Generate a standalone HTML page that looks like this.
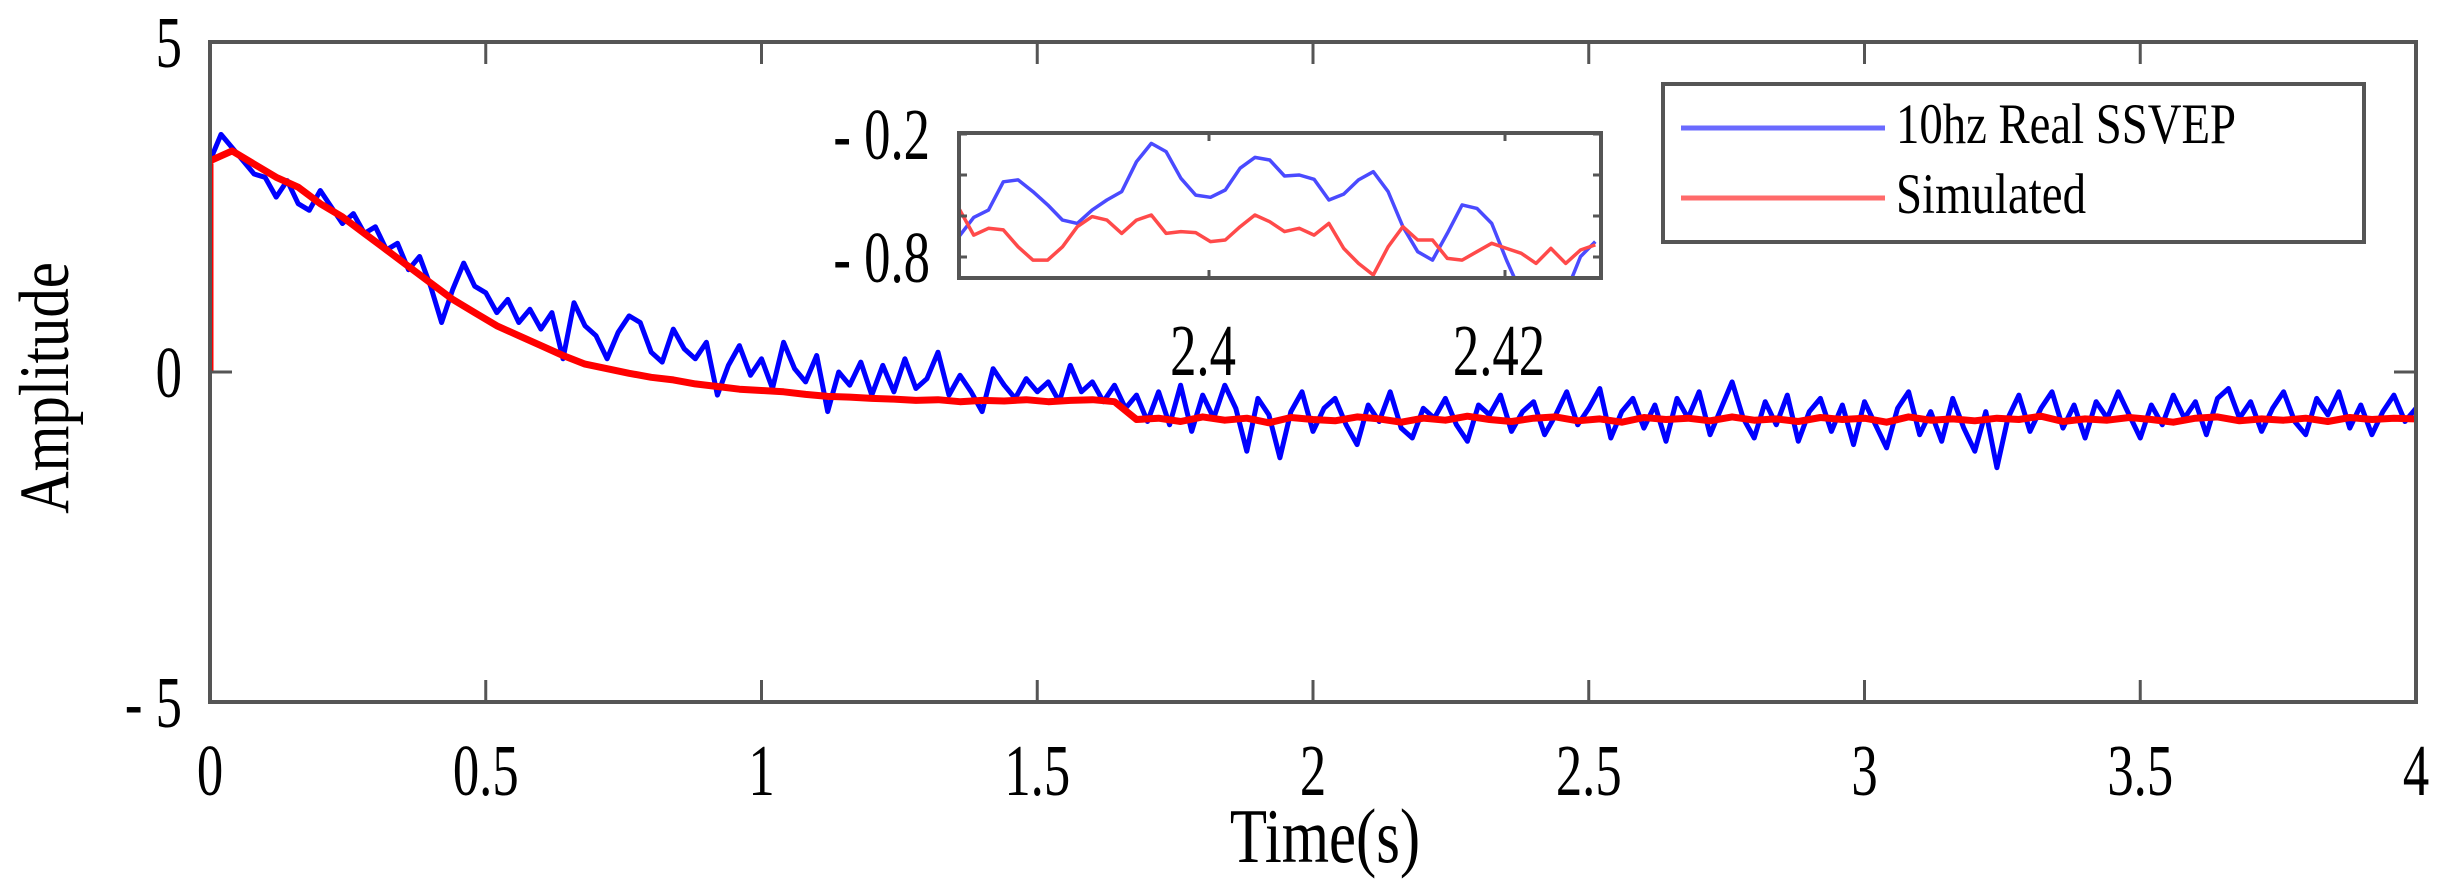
<!DOCTYPE html>
<html><head><meta charset="utf-8"><style>
html,body{margin:0;padding:0;background:#fff;}
svg{display:block;}
text{font-family:"Liberation Serif",serif;fill:#000;}
</style></head><body>
<svg id="chart" width="2444" height="887" viewBox="0 0 2444 887" xmlns="http://www.w3.org/2000/svg">
<defs>
<clipPath id="mainClip"><rect x="212" y="44" width="2202" height="656"/></clipPath>
<clipPath id="insetClip"><rect x="960" y="135" width="639" height="141"/></clipPath>
</defs>
<g id="main-series" clip-path="url(#mainClip)"></g>
<g id="main-axes"></g>
<text x="0" y="0" font-size="62" text-anchor="middle" transform="translate(68,388) rotate(-90) scale(0.95,1.15)">Amplitude</text>
<text x="0" y="0" font-size="64" text-anchor="middle" transform="translate(1325,862) scale(0.95,1.2)">Time(s)</text>
<g id="inset">
<rect x="959" y="133" width="642" height="145" fill="#fff"/>
<g id="inset-series" clip-path="url(#insetClip)"></g>
<g id="inset-axes"></g>
</g>
<g>
<rect x="1663" y="84" width="701" height="158" fill="#fff" stroke="#555" stroke-width="4"/>
<line x1="1681" y1="128" x2="1885" y2="128" stroke="#6a6aff" stroke-width="5"/>
<text x="0" y="0" font-size="50" textLength="340" lengthAdjust="spacingAndGlyphs" transform="translate(1896,143) scale(1,1.15)">10hz Real SSVEP</text>
<line x1="1681" y1="198" x2="1885" y2="198" stroke="#ff6a6a" stroke-width="5"/>
<text x="0" y="0" font-size="50" textLength="190" lengthAdjust="spacingAndGlyphs" transform="translate(1896,213) scale(1,1.15)">Simulated</text>
</g>
</svg>
<script>
const mainXTicks = [0, 0.5, 1, 1.5, 2, 2.5, 3, 3.5, 4];
const mainXTickLabels = ["0", "0.5", "1", "1.5", "2", "2.5", "3", "3.5", "4"];
const mainYTicks = [5, 0, -5];
const mainYTickLabels = ["5", "0", "- 5"];
const blueStep = 0.02;
const blueValues = [3.2,3.6,3.4,3.2,3.0,2.95,2.65,2.9,2.55,2.45,2.75,2.5,2.25,2.4,2.1,2.2,1.85,1.95,1.55,1.75,1.3,0.75,1.25,1.65,1.3,1.2,0.9,1.1,0.75,0.95,0.65,0.9,0.2,1.05,0.7,0.55,0.2,0.6,0.85,0.75,0.3,0.15,0.65,0.35,0.2,0.45,-0.35,0.1,0.4,-0.05,0.2,-0.25,0.45,0.05,-0.15,0.25,-0.6,0.0,-0.2,0.15,-0.35,0.1,-0.3,0.2,-0.25,-0.1,0.3,-0.35,-0.05,-0.3,-0.6,0.05,-0.2,-0.4,-0.1,-0.3,-0.15,-0.45,0.1,-0.3,-0.15,-0.45,-0.2,-0.55,-0.35,-0.75,-0.3,-0.8,-0.2,-0.9,-0.35,-0.7,-0.2,-0.55,-1.2,-0.4,-0.65,-1.3,-0.6,-0.3,-0.9,-0.55,-0.4,-0.8,-1.1,-0.5,-0.75,-0.3,-0.85,-1.0,-0.55,-0.7,-0.4,-0.8,-1.05,-0.5,-0.65,-0.35,-0.9,-0.6,-0.45,-0.95,-0.65,-0.3,-0.8,-0.55,-0.25,-1.0,-0.6,-0.4,-0.85,-0.5,-1.05,-0.4,-0.7,-0.3,-0.95,-0.55,-0.15,-0.7,-1.0,-0.45,-0.8,-0.35,-1.05,-0.6,-0.4,-0.9,-0.5,-1.1,-0.45,-0.8,-1.15,-0.55,-0.3,-0.95,-0.6,-1.05,-0.4,-0.85,-1.2,-0.6,-1.45,-0.7,-0.35,-0.9,-0.55,-0.3,-0.85,-0.5,-1.0,-0.45,-0.7,-0.3,-0.65,-1.0,-0.5,-0.8,-0.35,-0.7,-0.45,-0.95,-0.4,-0.25,-0.7,-0.45,-0.9,-0.55,-0.3,-0.75,-0.95,-0.4,-0.65,-0.3,-0.85,-0.5,-0.95,-0.6,-0.35,-0.75,-0.55];
const redStep = 0.04;
const redValues = [3.2,3.35,3.15,2.95,2.8,2.55,2.35,2.1,1.85,1.6,1.35,1.1,0.9,0.7,0.55,0.4,0.25,0.12,0.05,-0.02,-0.08,-0.12,-0.18,-0.22,-0.26,-0.28,-0.3,-0.34,-0.37,-0.38,-0.4,-0.41,-0.43,-0.42,-0.45,-0.43,-0.44,-0.42,-0.45,-0.43,-0.42,-0.45,-0.72,-0.7,-0.75,-0.68,-0.73,-0.7,-0.77,-0.69,-0.72,-0.74,-0.68,-0.71,-0.76,-0.7,-0.73,-0.67,-0.72,-0.75,-0.7,-0.68,-0.74,-0.71,-0.76,-0.69,-0.72,-0.7,-0.74,-0.68,-0.73,-0.71,-0.75,-0.69,-0.72,-0.7,-0.76,-0.68,-0.73,-0.71,-0.74,-0.7,-0.72,-0.67,-0.75,-0.71,-0.73,-0.69,-0.72,-0.76,-0.7,-0.68,-0.74,-0.71,-0.73,-0.7,-0.75,-0.69,-0.72,-0.7,-0.71];
const insetXTicks = [2.4, 2.42];
const insetXTickLabels = ["2.4", "2.42"];
const insetYTicks = [-0.2, -0.4, -0.6, -0.8];
const insetYTickLabels = ["- 0.2", "", "", "- 0.8"];
const insetStart = 2.3831;
const insetStep = 0.001;
const insetBlue = [-0.701,-0.607,-0.571,-0.433,-0.424,-0.481,-0.546,-0.620,-0.636,-0.571,-0.522,-0.481,-0.335,-0.246,-0.286,-0.416,-0.498,-0.509,-0.473,-0.367,-0.314,-0.327,-0.405,-0.400,-0.421,-0.522,-0.493,-0.424,-0.384,-0.481,-0.652,-0.774,-0.815,-0.685,-0.546,-0.563,-0.636,-0.815,-0.977,-1.04,-1.04,-0.977,-0.798,-0.725];
const insetRed = [-0.563,-0.693,-0.660,-0.668,-0.750,-0.815,-0.815,-0.750,-0.652,-0.603,-0.620,-0.685,-0.620,-0.595,-0.685,-0.676,-0.681,-0.725,-0.717,-0.652,-0.595,-0.628,-0.676,-0.660,-0.693,-0.636,-0.758,-0.831,-0.888,-0.750,-0.652,-0.717,-0.717,-0.807,-0.815,-0.774,-0.733,-0.758,-0.782,-0.831,-0.758,-0.831,-0.766,-0.741];

const NS = "http://www.w3.org/2000/svg";
function mk(tag, attrs, parent){const e=document.createElementNS(NS,tag);for(const k in attrs)e.setAttribute(k,attrs[k]);parent.appendChild(e);return e;}
const X0=210, X1=2416, Y5=42, Ym5=702;
function mx(t){return X0+(t-0)/(4-0)*(X1-X0);}
function my(v){return Y5+(5-v)/(10)*(Ym5-Y5);}
function ix(t){return 1209+(t-2.4)*14800;}
function iy(v){return 134+(-0.2-v)*205;}
function tall(x,y){return 'translate('+x+','+y+') scale(0.85,1.18)';}

const ms=document.getElementById('main-series');
let d='';
blueValues.forEach((v,i)=>{d+=(i?'L':'M')+mx(i*blueStep).toFixed(1)+' '+my(v).toFixed(1);});
const bp=mk('path',{d:d,fill:'none',stroke:'#0000ff','stroke-width':5,'stroke-linejoin':'round'},ms);


d='M'+mx(0)+' '+my(0);
redValues.forEach((v,i)=>{d+='L'+mx(i*redStep).toFixed(1)+' '+my(v).toFixed(1);});
const rp=mk('path',{d:d,fill:'none',stroke:'#ff0000','stroke-width':7,'stroke-linejoin':'round'},ms);



const ma=document.getElementById('main-axes');
const frame=mk('rect',{x:X0,y:Y5,width:X1-X0,height:Ym5-Y5,fill:'none',stroke:'#555','stroke-width':4},ma);


mainXTicks.forEach((t,i)=>{
  const x=mx(t);
  mk('line',{x1:x,y1:Y5,x2:x,y2:Y5+22,stroke:'#555','stroke-width':3},ma);
  mk('line',{x1:x,y1:Ym5,x2:x,y2:Ym5-22,stroke:'#555','stroke-width':3},ma);
  const tx=mk('text',{x:0,y:0,'font-size':62,'text-anchor':'middle',transform:tall(x,795)},ma);
  tx.textContent=mainXTickLabels[i];
  
  
});
mainYTicks.forEach((v,i)=>{
  const y=my(v);
  mk('line',{x1:X0,y1:y,x2:X0+22,y2:y,stroke:'#555','stroke-width':3},ma);
  mk('line',{x1:X1,y1:y,x2:X1-22,y2:y,stroke:'#555','stroke-width':3},ma);
  const tx=mk('text',{x:0,y:0,'font-size':62,'text-anchor':'end',transform:tall(182,y+25)},ma);
  tx.textContent=mainYTickLabels[i];
  
  
});

const is=document.getElementById('inset-series');
d='';
insetBlue.forEach((v,i)=>{d+=(i?'L':'M')+ix(insetStart+i*insetStep).toFixed(1)+' '+iy(v).toFixed(1);});
const ib=mk('path',{d:d,fill:'none',stroke:'#4a4aff','stroke-width':3.5,'stroke-linejoin':'round'},is);


d='';
insetRed.forEach((v,i)=>{d+=(i?'L':'M')+ix(insetStart+i*insetStep).toFixed(1)+' '+iy(v).toFixed(1);});
const ir=mk('path',{d:d,fill:'none',stroke:'#ff4a4a','stroke-width':3.5,'stroke-linejoin':'round'},is);



const ia=document.getElementById('inset-axes');
const iframe=mk('rect',{x:959,y:133,width:642,height:145,fill:'none',stroke:'#555','stroke-width':4},ia);


insetXTicks.forEach((t,i)=>{
  const x=ix(t);
  mk('line',{x1:x,y1:133,x2:x,y2:141,stroke:'#555','stroke-width':3},ia);
  mk('line',{x1:x,y1:278,x2:x,y2:270,stroke:'#555','stroke-width':3},ia);
  const tx=mk('text',{x:0,y:0,'font-size':62,'text-anchor':'middle',transform:tall(x-6,375)},ia);
  tx.textContent=insetXTickLabels[i];
  
  
});
insetYTicks.forEach((v,i)=>{
  const y=iy(v);
  mk('line',{x1:959,y1:y,x2:967,y2:y,stroke:'#555','stroke-width':3},ia);
  mk('line',{x1:1601,y1:y,x2:1593,y2:y,stroke:'#555','stroke-width':3},ia);
  if(insetYTickLabels[i]){
    const tx=mk('text',{x:0,y:0,'font-size':62,'text-anchor':'end',transform:tall(930,y+25)},ia);
    tx.textContent=insetYTickLabels[i];
    
    
  }
});
</script>
</body></html>
